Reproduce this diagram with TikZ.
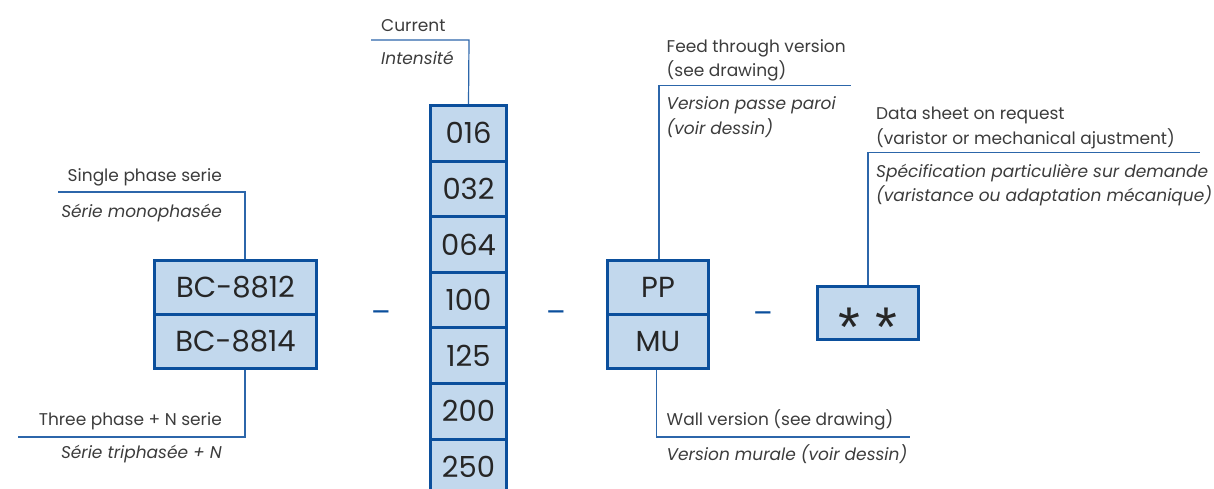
\documentclass[tikz,border=0pt]{standalone}
\usepackage{fontspec}
\setmainfont{Poppins}
\newfontfamily\starfont{Liberation Sans}
\usepackage{xcolor}

\definecolor{boxblue}{HTML}{0B4F9C}
\definecolor{boxfill}{HTML}{C2D8ED}
\definecolor{leadblue}{HTML}{2C66AA}
\definecolor{textgray}{HTML}{3C3C3C}

\tikzset{
  codebox/.style={draw=boxblue,fill=boxfill,line width=3pt,inner sep=0pt,
    minimum width=101pt,minimum height=54pt,text=black!85,
    font=\fontsize{29}{29}\selectfont},
  leader/.style={draw=leadblue,line width=1.2pt},
  entext/.style={inner sep=0pt,text=textgray,font=\fontsize{17}{17}\selectfont},
  frtext/.style={entext,font=\fontsize{17}{17}\selectfont\itshape},
  sep/.style={inner sep=0pt,text=boxblue,font=\fontsize{29}{29}\selectfont}
}
% centred asterisk
\newcommand{\codestar}{\smash{\raisebox{-0.59em}{*}}}

\begin{document}
\begin{tikzpicture}[x=1pt,y=-1pt]
\useasboundingbox (0,0) rectangle (1214,489);

% serie
\node[codebox,minimum width=162pt] (bc8812) at (235.5,287) {BC-8812};
\node[codebox,minimum width=162pt] (bc8814) at (235.5,341.5) {BC-8814};
\coordinate (serietop) at (245,259);
\coordinate (serieknee) at (245,192);
\coordinate (serieend) at (58,192);
\draw[leader] (serietop) -- (serieknee) -- (serieend);
\node[entext,anchor=base east] (singleen) at (222,182) {Single phase serie};
\node[frtext,anchor=base east] (singlefr) at (222,217) {Série monophasée};
\coordinate (triptop) at (245,370);
\coordinate (tripknee) at (245,437);
\coordinate (tripend) at (18,437);
\draw[leader] (triptop) -- (tripknee) -- (tripend);
\node[entext,anchor=base east] (threeen) at (222,425) {Three phase + N serie};
\node[frtext,anchor=base east] (threefr) at (222,458) {Série triphasée + N};

\node[sep] (dasha) at (381,317) {–};

% current
\node[codebox,minimum width=76pt,minimum height=55.6pt] (i016) at (468.5,133.3) {016};
\node[codebox,minimum width=76pt,minimum height=55.6pt] (i032) at (468.5,188.9) {032};
\node[codebox,minimum width=76pt,minimum height=55.6pt] (i064) at (468.5,244.5) {064};
\node[codebox,minimum width=76pt,minimum height=55.6pt] (i100) at (468.5,300.1) {100};
\node[codebox,minimum width=76pt,minimum height=55.6pt] (i125) at (468.5,355.7) {125};
\node[codebox,minimum width=76pt,minimum height=55.6pt] (i200) at (468.5,411.3) {200};
\node[codebox,minimum width=76pt,minimum height=55.6pt] (i250) at (468.5,466.9) {250};
\coordinate (curknee) at (469,40);
\coordinate (curend) at (371,40);
\draw[leader] (i016.north) -- (curknee) -- (curend);
\node[entext,anchor=base west] (curen) at (381,31.5) {Current};
\node[frtext,anchor=base west] (curfr) at (381,65) {Intensité};

\node[sep] (dashb) at (556,317) {–};

% version
\node[codebox] (pp) at (658,287) {PP};
\node[codebox] (mu) at (658,341.5) {MU};
\coordinate (pptop) at (659,259);
\coordinate (ppknee) at (659,85.5);
\coordinate (ppend) at (851,85.5);
\draw[leader] (pptop) -- (ppknee) -- (ppend);
\node[entext,anchor=base west] (feeden) at (666.5,53) {Feed through version};
\node[entext,anchor=base west] (feedena) at (666.5,77) {(see drawing)};
\node[frtext,anchor=base west] (feedfr) at (666.5,110) {Version passe paroi};
\node[frtext,anchor=base west] (feedfra) at (666.5,135) {(voir dessin)};
\coordinate (mubot) at (656.5,370);
\coordinate (muknee) at (656.5,437);
\coordinate (muend) at (910,437);
\draw[leader] (mubot) -- (muknee) -- (muend);
\node[entext,anchor=base west] (wallen) at (666.5,425) {Wall version (see drawing)};
\node[frtext,anchor=base west] (wallfr) at (666.5,460) {Version murale (voir dessin)};

\node[sep] (dashc) at (763,318) {–};

% special
\node[codebox,minimum height=53pt,font=\starfont\fontsize{56}{56}\selectfont]
  (spec) at (868,313) {\codestar\hspace{15pt}\codestar};
\coordinate (specknee) at (868,152.5);
\coordinate (specend) at (1200,152.5);
\draw[leader] (spec.north) -- (specknee) -- (specend);
\node[entext,anchor=base west] (dataen) at (876,120) {Data sheet on request};
\node[entext,anchor=base west] (dataena) at (876,144.5) {(varistor or mechanical ajustment)};
\node[frtext,anchor=base west] (datafr) at (876,178) {Spécification particulière sur demande};
\node[frtext,anchor=base west] (datafra) at (876,201.5) {(varistance ou adaptation mécanique)};
\end{tikzpicture}
\end{document}
